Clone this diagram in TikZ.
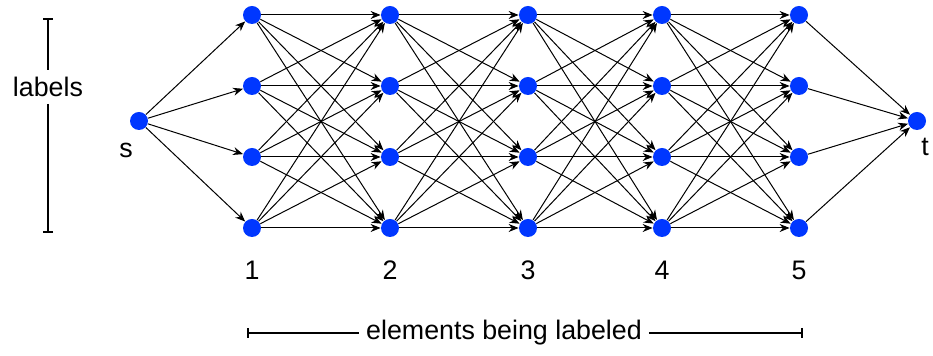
\documentclass[tikz,border=0pt]{standalone}
\usepackage{fontspec}
\setmainfont{Liberation Sans}
\usepackage{tikz}
\usetikzlibrary{arrows.meta, positioning}
\definecolor{nodeblue}{RGB}{0,55,255}

\begin{document}
\begin{tikzpicture}[x=0.5pt,y=-0.5pt,>={Stealth[length=5pt,width=4pt]},font=\fontsize{13.4}{16}\selectfont]
            \tikzstyle{vertex}=[circle,fill=nodeblue,inner sep=0pt,minimum size=9pt]
            \tikzstyle{edge}=[->,line width=0.5pt]
            \tikzstyle{bracket}=[line width=0.8pt]
            \useasboundingbox (0,0) rectangle (933,356);

            \node[vertex] (s) at (139, 121) {};
            \node[vertex] (t) at (917, 121) {};
            \node (s_label) at (126, 150) {s};
            \node (t_label) at (925, 147) {t};

            \foreach \c/\x in {1/252, 2/390, 3/528, 4/662, 5/799} {
              \foreach \r/\y in {1/15, 2/86, 3/157, 4/228}
                \node[vertex] (v_\c\r) at (\x, \y) {};
              \node (num_\c) at (\x, 270) {\c};
            }

            \foreach \r in {1,...,4} {
              \draw[edge] (s) -- (v_1\r);
              \draw[edge] (v_5\r) -- (t);
            }
            \foreach \c [evaluate=\c as \n using int(\c+1)] in {1,...,4}
              \foreach \r in {1,...,4}
                \foreach \q in {1,...,4}
                  \draw[edge] (v_\c\r) -- (v_\n\q);

            \node (labels) at (48, 87) {labels};
            \draw[bracket, {Bar[width=5pt]}-] (48, 18) -- (labels.north);
            \draw[bracket, -{Bar[width=5pt]}] (labels.south) -- (48, 233);

            \node (elements) at (504, 333) {elements being labeled};
            \draw[bracket, {Bar[width=5pt]}-] (247, 333) -- (elements.west);
            \draw[bracket, -{Bar[width=5pt]}] (elements.east) -- (803, 333);

\end{tikzpicture}
\end{document}
